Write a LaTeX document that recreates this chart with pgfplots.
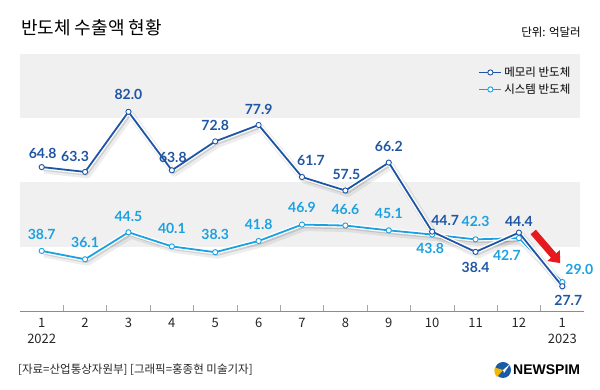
\documentclass[border=0pt]{standalone}
\usepackage{fontspec}
\setmainfont{Noto Sans CJK KR}
\newfontfamily\lato{Lato}
\newfontfamily\libsans{Liberation Sans}
\usepackage{pgfplots}
\usepackage{pgfplotstable}
\pgfplotsset{compat=1.18}
\usetikzlibrary{arrows.meta}
\definecolor{mem}{HTML}{1F55A5}
\definecolor{sys}{HTML}{1BA1E2}
\definecolor{band}{HTML}{F0F0F0}
\definecolor{arrowred}{HTML}{E5191E}
\definecolor{logoblue}{HTML}{1A5BA8}
\definecolor{logoyellow}{HTML}{F2B705}

\pgfplotstableread{
x  mem   sys   mdx mdy sdx sdy
1  64.8  38.7   1  14   0  16
2  63.3  36.1 -10  15   0  17
3  82.0  44.5   0  17   0  16
4  63.8  40.1   1  13   0  18
5  72.8  38.3   0  16   0  18
6  77.9  41.8   0  16   0  17
7  61.7  46.9   9  17   0  17
8  57.5  46.6   1  16   0  16
9  66.2  45.1   0  16   0  17
10 44.7  43.8  13  11  -2 -14
11 38.4  42.3   0 -16   0  18
12 44.4  42.7   0  11 -12 -17
13 27.7  29.0   6 -14  17  13
}\data

\begin{document}
\begin{tikzpicture}[x=1pt,y=1pt]
\path[use as bounding box] (0,0) rectangle (600,390);
\node[anchor=west, inner sep=0pt, font=\fontsize{18}{21}\selectfont] at (21,362.5) {반도체 수출액 현황};
\node[anchor=east, inner sep=0pt, font=\fontsize{11.5}{13}\selectfont] at (581,358) {단위: 억달러};
\node[anchor=west, inner sep=0pt, font=\fontsize{11.5}{13}\selectfont, text=black!85] at (18,20) {[자료=산업통상자원부] [그래픽=홍종현 미술기자]};
% logo
\fill[logoblue] (503,20) circle (8);
\fill[logoyellow] (503,20) -- (497,13) arc (225:160:9) -- cycle;
\fill[white] (503,20) -- (510,26) -- (504,17) -- cycle;
\node[anchor=west, inner sep=0pt, font=\libsans\bfseries\fontsize{14}{16}\selectfont] at (513,20) {NEWSPIM};
\begin{axis}[
  at={(20pt,79pt)}, anchor=south west, scale only axis,
  width=564pt, height=257pt,
  xmin=0.5, xmax=13.5, ymin=20, ymax=100,
  clip=false,
  axis x line*=bottom, axis y line=none,
  x axis line style={-, draw=black!45, line width=0.8pt},
  xtick={1,...,13},
  xticklabels={{1\\2022},2,3,4,5,6,7,8,9,10,11,12,{1\\2023}},
  xticklabel style={align=center, font=\fontsize{13}{16}\selectfont, text=black!85, yshift=-4pt},
  major tick length=0pt,
  minor xtick={1.5,2.5,...,12.5},
  minor tick length=6pt,
  tick align=inside,
  minor tick style={draw=black!35, line width=0.6pt},
  legend style={at={(rel axis cs:0.985,0.966)}, anchor=north east, draw=none, fill=none,
    font=\fontsize{11.5}{13}\selectfont, row sep=2pt, cells={anchor=west}},
  legend image code/.code={\draw[mark repeat=2, mark phase=2, #1] plot coordinates {(0pt,0pt) (11pt,0pt) (22pt,0pt)};},
]
\fill[band] (axis cs:0.5,80) rectangle (axis cs:13.4,100);
\fill[band] (axis cs:0.5,40) rectangle (axis cs:13.4,60);

\addlegendimage{mem, line width=1.8pt, mark=*, mark size=2.6pt, mark options={fill=white, draw=mem, line width=0.9pt}}
\addlegendentry{메모리 반도체}
\addlegendimage{sys, line width=1.8pt, mark=*, mark size=2.6pt, mark options={fill=white, draw=sys, line width=0.9pt}}
\addlegendentry{시스템 반도체}

% soft shadows
\addplot[forget plot, black, opacity=0.07, line width=7pt, line join=round, transform canvas={xshift=2.5pt, yshift=-3pt}] table[x=x, y=sys] {\data};
\addplot[forget plot, black, opacity=0.12, line width=3.5pt, line join=round, transform canvas={xshift=1.5pt, yshift=-2pt}] table[x=x, y=sys] {\data};
\addplot[forget plot, black, opacity=0.07, line width=7pt, line join=round, transform canvas={xshift=2.5pt, yshift=-3pt}] table[x=x, y=mem] {\data};
\addplot[forget plot, black, opacity=0.12, line width=3.5pt, line join=round, transform canvas={xshift=1.5pt, yshift=-2pt}] table[x=x, y=mem] {\data};

% system
\addplot[forget plot, white, line width=4.5pt] table[x=x, y=sys] {\data};
\addplot[forget plot, sys, line width=1.8pt, mark=*, mark size=2.6pt,
  mark options={fill=white, draw=sys, line width=0.9pt},
  visualization depends on={\thisrow{sdx}\as\dx},
  visualization depends on={\thisrow{sdy}\as\dy},
  nodes near coords={\pgfmathprintnumber[fixed,fixed zerofill,precision=1,assume math mode=true]{\pgfplotspointmeta}},
  nodes near coords style={anchor=center, inner sep=0pt, xshift=\dx pt, yshift=\dy pt, font=\lato\bfseries\fontsize{14}{16}\selectfont, text=sys},
] table[x=x, y=sys] {\data};

% memory
\addplot[forget plot, white, line width=4.5pt] table[x=x, y=mem] {\data};
\addplot[forget plot, mem, line width=1.8pt, mark=*, mark size=2.6pt,
  mark options={fill=white, draw=mem, line width=0.9pt},
  visualization depends on={\thisrow{mdx}\as\dx},
  visualization depends on={\thisrow{mdy}\as\dy},
  nodes near coords={\pgfmathprintnumber[fixed,fixed zerofill,precision=1,assume math mode=true]{\pgfplotspointmeta}},
  nodes near coords style={anchor=center, inner sep=0pt, xshift=\dx pt, yshift=\dy pt, font=\lato\bfseries\fontsize{14}{16}\selectfont, text=mem},
] table[x=x, y=mem] {\data};

% red arrow
\draw[arrowred, line width=7pt, -{Triangle[width=16pt, length=10pt]}] (axis cs:12.33,44.6) -- (axis cs:12.95,34.9);
\end{axis}
\end{tikzpicture}
\end{document}
